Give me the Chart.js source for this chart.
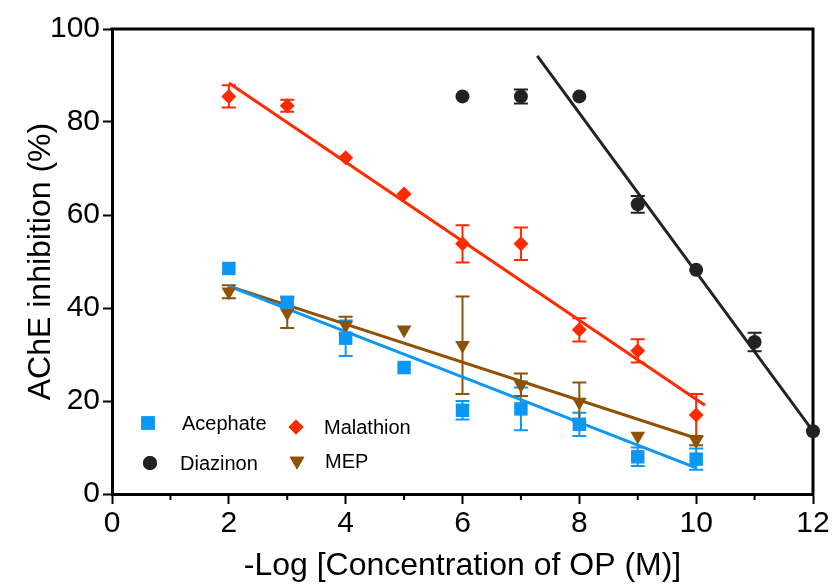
<!DOCTYPE html>
<html>
<head>
<meta charset="utf-8">
<title>AChE inhibition</title>
<script src="https://cdn.jsdelivr.net/npm/chart.js@4.4.1/dist/chart.umd.min.js"></script>
<style>
  html, body { margin: 0; padding: 0; background: #fff; }
  #wrap { width: 833px; height: 586px; }
</style>
</head>
<body>
<div id="wrap"><canvas id="inhib" width="833" height="586"></canvas></div>
<script>
// -log[M] for each measurement
const concX = [2, 3, 4, 5, 6, 7, 8, 9, 10];
const diazX = [6, 7, 8, 9, 10, 11, 12];

const acephate    = [48.5, 41.2, 33.5, 27.2, 18.0, 18.3, 15.0, 8.0, 7.5];
const acephateErr = [0, 1.2, 3.8, 0, 2.0, 4.6, 2.5, 2.0, 2.3];
const malathion    = [85.5, 83.5, 72.3, 64.5, 53.8, 53.8, 35.3, 30.8, 17.0];
const malathionErr = [2.4, 1.3, 0, 0, 4.0, 3.5, 2.5, 2.5, 4.5];
const diazinon    = [85.5, 85.5, 85.5, 62.3, 48.2, 32.7, 13.5];
const diazinonErr = [0, 1.5, 0, 1.8, 0, 2.0, 0];
const mep    = [43.5, 39.0, 36.3, 35.3, 32.0, 23.5, 19.8, 12.5, 11.5];
const mepErr = [1.4, 3.3, 1.8, 0, 10.5, 2.4, 4.2, 0, 1.0];

// linear fits, [x, y] end points
const acephateFit  = [[2, 44.7], [10, 5.6]];
const malathionFit = [[2, 88.4], [10.15, 19.1]];
const diazinonFit  = [[7.28, 94.2], [12, 13.5]];
const mepFit       = [[2, 44.7], [10, 12.0]];

const xTicks = [0, 1, 2, 3, 4, 5, 6, 7, 8, 9, 10, 11, 12];
const yTicks = [0, 20, 40, 60, 80, 100];

const BLUE = '#0A97F5', RED = '#FF2A00', BLACK = '#222222', BROWN = '#8E5207';
const FONT = '"Liberation Sans", Arial, sans-serif';

const pts = (xs, ys) => xs.map((x, i) => ({ x, y: ys[i] }));
const line = (arr) => arr.map(([x, y]) => ({ x, y }));

const series = [
  { label: 'Acephate', xs: concX, ys: acephate, err: acephateErr, fit: acephateFit, color: BLUE, style: 'rect', r: 9.5, rot: 0 },
  { label: 'Malathion', xs: concX, ys: malathion, err: malathionErr, fit: malathionFit, color: RED, style: 'rectRot', r: 7.5, rot: 0 },
  { label: 'Diazinon', xs: diazX, ys: diazinon, err: diazinonErr, fit: diazinonFit, color: BLACK, style: 'circle', r: 7, rot: 0 },
  { label: 'MEP', xs: concX, ys: mep, err: mepErr, fit: mepFit, color: BROWN, style: 'triangle', r: 8.5, rot: 180 },
];

const datasets = [];
series.forEach((s) => {
  datasets.push({
    type: 'line', label: s.label + ' fit', data: line(s.fit),
    borderColor: s.color, borderWidth: 3, pointRadius: 0, fill: false, order: 2,
  });
});
series.forEach((s) => {
  datasets.push({
    type: 'scatter', label: s.label, data: pts(s.xs, s.ys),
    backgroundColor: s.color, borderColor: s.color, borderWidth: 0, clip: false,
    pointStyle: s.style, pointRadius: s.r, pointRotation: s.rot, order: 1,
    errs: s.err,
  });
});

// box frame + error bars with caps, drawn under the markers
const errorBars = {
  id: 'errorBars',
  beforeDatasetsDraw(chart) {
    const { ctx, chartArea: a, scales: { x, y } } = chart;
    ctx.save();
    ctx.strokeStyle = '#000';
    ctx.lineWidth = 3;
    ctx.beginPath();
    ctx.moveTo(a.left - 1.5, a.top); ctx.lineTo(a.right, a.top); ctx.lineTo(a.right, a.bottom + 1.5);
    ctx.stroke();

    ctx.lineWidth = 2;
    chart.data.datasets.forEach((ds) => {
      if (!ds.errs) return;
      ctx.strokeStyle = ds.borderColor;
      ds.data.forEach((p, i) => {
        const e = ds.errs[i];
        if (!e) return;
        const px = x.getPixelForValue(p.x);
        const top = y.getPixelForValue(p.y + e);
        const bot = y.getPixelForValue(p.y - e);
        ctx.beginPath();
        ctx.moveTo(px, top); ctx.lineTo(px, bot);
        ctx.moveTo(px - 7, top); ctx.lineTo(px + 7, top);
        ctx.moveTo(px - 7, bot); ctx.lineTo(px + 7, bot);
        ctx.stroke();
      });
    });
    ctx.restore();
  },
};

// minor x ticks and the inset legend
const legendBox = {
  id: 'legendBox',
  afterDraw(chart) {
    const { ctx, chartArea: a, scales: { x } } = chart;
    ctx.save();
    ctx.strokeStyle = '#000';
    ctx.lineWidth = 2;
    xTicks.filter((v) => v % 2).forEach((v) => {
      const px = x.getPixelForValue(v);
      ctx.beginPath(); ctx.moveTo(px, a.bottom); ctx.lineTo(px, a.bottom + 6); ctx.stroke();
    });

    const legend = [
      [series[0], a.left + 36, a.top + 394, a.left + 70],
      [series[1], a.left + 184, a.top + 398, a.left + 212],
      [series[2], a.left + 38, a.top + 434, a.left + 68],
      [series[3], a.left + 185, a.top + 432, a.left + 213],
    ];
    ctx.font = '20px ' + FONT;
    ctx.textBaseline = 'middle';
    ctx.textAlign = 'left';
    legend.forEach(([s, mx, my, tx]) => {
      ctx.fillStyle = s.color;
      ctx.strokeStyle = s.color;
      Chart.helpers.drawPoint(ctx, { pointStyle: s.style, radius: s.r, rotation: s.rot, borderWidth: 0 }, mx, my);
      ctx.fill();
      ctx.fillStyle = '#000';
      ctx.fillText(s.label, tx, my + 1);
    });
    ctx.restore();
  },
};

new Chart(document.getElementById('inhib'), {
  data: { datasets },
  plugins: [errorBars, legendBox],
  options: {
    responsive: false,
    animation: false,
    layout: { padding: { top: 29, right: 20, left: 0, bottom: 0 } },
    plugins: { legend: { display: false }, tooltip: { enabled: false } },
    scales: {
      x: {
        type: 'linear', min: 0, max: 12,
        afterFit: (s) => { s.height = 92; },
        afterBuildTicks: (s) => { s.ticks = xTicks.map((v) => ({ value: v })); },
        border: { display: true, width: 3, color: '#000' },
        grid: {
          drawOnChartArea: false, drawTicks: true, tickLength: 10, tickWidth: 2,
          tickColor: (c) => (c.tick && c.tick.value % 2 ? 'rgba(0,0,0,0)' : '#000'),
        },
        ticks: {
          color: '#000', padding: 2, maxRotation: 0, autoSkip: false,
          font: { family: FONT, size: 30 },
          callback: (v) => (v % 2 ? '' : String(v)),
        },
        title: {
          display: true, text: '-Log [Concentration of OP (M)]', color: '#000',
          font: { family: FONT, size: 32 }, padding: { top: 0, bottom: 1 },
        },
      },
      y: {
        type: 'linear', min: 0, max: 100,
        afterFit: (s) => { s.width = 112; },
        afterBuildTicks: (s) => { s.ticks = yTicks.map((v) => ({ value: v })); },
        border: { display: true, width: 3, color: '#000' },
        grid: { drawOnChartArea: false, drawTicks: true, tickLength: 9, tickWidth: 2, tickColor: '#000' },
        ticks: { color: '#000', padding: 3, font: { family: FONT, size: 30 } },
        title: {
          display: true, text: 'AChE inhibition (%)', color: '#000',
          font: { family: FONT, size: 32 }, padding: { top: 22, bottom: 0 },
        },
      },
    },
  },
});
</script>
</body>
</html>
